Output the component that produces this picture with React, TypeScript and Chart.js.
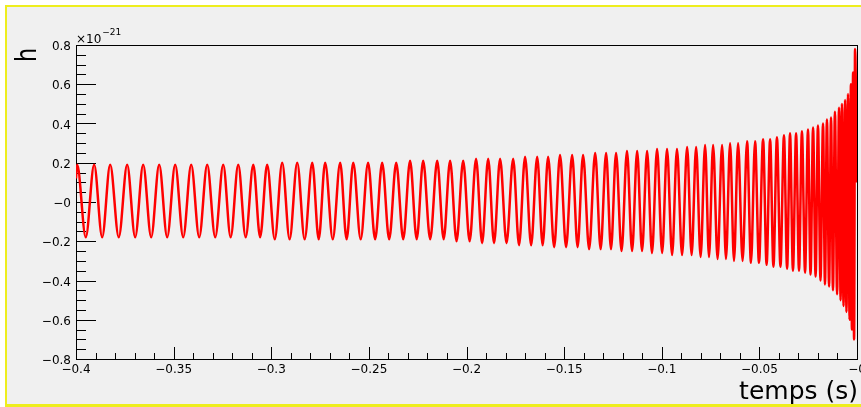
import React, { useEffect, useRef } from "react";
import { Chart, registerables } from "chart.js";

Chart.register(...registerables);

// Chirp waveform: times (s) and strain (x1e-21) of each crest and trough
const startPoint = { t: -0.4, h: 0.12 };
const endPoint = { t: 0.0, h: 0.1 };

const peakTimes = [
  -0.3994, -0.3907, -0.3825, -0.3738, -0.3656, -0.3574, -0.3492, -0.341, -0.3328, -0.3246,
  -0.3169, -0.3092, -0.3021, -0.2944, -0.2867, -0.279, -0.2724, -0.2647, -0.258, -0.2504,
  -0.2432, -0.236, -0.2289, -0.2222, -0.215, -0.2084, -0.2017, -0.1951, -0.1889, -0.1828,
  -0.1761, -0.17, -0.1638, -0.1582, -0.1521, -0.1459, -0.1403, -0.1341, -0.1285, -0.1234,
  -0.1178, -0.1126, -0.1075, -0.1024, -0.0973, -0.0922, -0.087, -0.0824, -0.0778, -0.0737,
  -0.0691, -0.065, -0.0609, -0.0563, -0.0522, -0.0481, -0.0445, -0.041, -0.0374, -0.0343,
  -0.0312, -0.0282, -0.0251, -0.0225, -0.02, -0.0174, -0.0154, -0.0133, -0.0113, -0.0092,
  -0.0077, -0.0061, -0.0046, -0.0031, -0.002, -0.001,
];
const peakValues = [
  0.19, 0.19, 0.19, 0.19, 0.19, 0.19, 0.19, 0.19, 0.19, 0.19,
  0.19, 0.19, 0.19, 0.2, 0.2, 0.2, 0.2, 0.2, 0.2, 0.2,
  0.2, 0.2, 0.21, 0.21, 0.21, 0.21, 0.21, 0.22, 0.22, 0.22,
  0.22, 0.23, 0.23, 0.23, 0.24, 0.24, 0.24, 0.25, 0.25, 0.25,
  0.26, 0.26, 0.26, 0.27, 0.27, 0.27, 0.28, 0.28, 0.29, 0.29,
  0.29, 0.3, 0.3, 0.31, 0.31, 0.32, 0.32, 0.33, 0.34, 0.35,
  0.35, 0.36, 0.37, 0.38, 0.39, 0.4, 0.42, 0.43, 0.46, 0.48,
  0.5, 0.52, 0.55, 0.6, 0.66, 0.78,
];
const troughTimes = [
  -0.395, -0.3866, -0.3781, -0.3697, -0.3615, -0.3533, -0.3451, -0.3369, -0.3287, -0.3208,
  -0.3131, -0.3057, -0.2982, -0.2906, -0.2829, -0.2757, -0.2685, -0.2614, -0.2542, -0.2468,
  -0.2396, -0.2324, -0.2255, -0.2186, -0.2117, -0.2051, -0.1984, -0.192, -0.1859, -0.1795,
  -0.1731, -0.1669, -0.161, -0.1551, -0.149, -0.1431, -0.1372, -0.1313, -0.126, -0.1206,
  -0.1152, -0.1101, -0.105, -0.0998, -0.0947, -0.0896, -0.0847, -0.0801, -0.0758, -0.0714,
  -0.0671, -0.063, -0.0586, -0.0543, -0.0502, -0.0463, -0.0428, -0.0392, -0.0358, -0.0328,
  -0.0297, -0.0266, -0.0238, -0.0212, -0.0187, -0.0164, -0.0143, -0.0123, -0.0102, -0.0084,
  -0.0069, -0.0054, -0.0038, -0.0026, -0.0015,
];
const troughValues = [
  -0.18, -0.18, -0.18, -0.18, -0.18, -0.18, -0.18, -0.18, -0.18, -0.18,
  -0.18, -0.18, -0.19, -0.19, -0.19, -0.19, -0.19, -0.19, -0.19, -0.19,
  -0.19, -0.19, -0.19, -0.19, -0.19, -0.2, -0.2, -0.21, -0.21, -0.21,
  -0.22, -0.22, -0.22, -0.23, -0.23, -0.23, -0.24, -0.24, -0.24, -0.25,
  -0.25, -0.25, -0.26, -0.26, -0.27, -0.27, -0.27, -0.28, -0.28, -0.29,
  -0.29, -0.3, -0.3, -0.31, -0.31, -0.32, -0.33, -0.33, -0.34, -0.35,
  -0.35, -0.36, -0.37, -0.38, -0.4, -0.42, -0.43, -0.45, -0.47, -0.5,
  -0.53, -0.56, -0.6, -0.65, -0.7,
];

const xTickLabels = ["\u22120.4", "\u22120.35", "\u22120.3", "\u22120.25", "\u22120.2", "\u22120.15", "\u22120.1", "\u22120.05", "\u22120"];
const yTickLabels = ["\u22120.8", "\u22120.6", "\u22120.4", "\u22120.2", "\u22120", "0.2", "0.4", "0.6", "0.8"];

const X_MIN = -0.4, X_MAX = 0, Y_MIN = -0.8, Y_MAX = 0.8;
const FONT = '"DejaVu Sans", sans-serif';

function buildPoints() {
  const pts: { x: number; y: number }[] = [{ x: startPoint.t, y: startPoint.h }];
  for (let i = 0; i < peakTimes.length; i++) {
    pts.push({ x: peakTimes[i], y: peakValues[i] });
    if (i < troughTimes.length) pts.push({ x: troughTimes[i], y: troughValues[i] });
  }
  pts.push({ x: endPoint.t, y: endPoint.h });
  return pts;
}

const rootStyle = {
  id: "rootStyle",
  beforeDraw(chart: any) {
    const ctx = chart.ctx;
    const W = chart.width, H = chart.height;
    ctx.save();
    ctx.fillStyle = "#ffffff";
    ctx.fillRect(0, 0, W, H);
    ctx.fillStyle = "#f0f0f0";
    ctx.fillRect(7, 7, W - 7, H - 10);
    ctx.fillStyle = "#eeee1e";
    ctx.fillRect(5, 5, W - 5, 2);
    ctx.fillRect(5, 5, 2, H - 5);
    ctx.fillRect(5, H - 3, W - 5, 3);
    ctx.restore();
  },
  beforeDatasetsDraw(chart: any) {
    const ctx = chart.ctx;
    const { left, right, top, bottom } = chart.chartArea;
    const xs = chart.scales.x, ys = chart.scales.y;
    ctx.save();
    ctx.strokeStyle = "#000";
    ctx.lineWidth = 1;
    ctx.strokeRect(Math.round(left) + 0.5, Math.round(top) + 0.5, Math.round(right - left), Math.round(bottom - top));
    ctx.beginPath();
    for (let k = 0; k <= 32; k++) {
      const v = Y_MIN + k * 0.05;
      const py = Math.round(ys.getPixelForValue(v)) + 0.5;
      const len = k % 4 === 0 ? 20 : 10;
      ctx.moveTo(left, py);
      ctx.lineTo(left + len, py);
    }
    for (let k = 0; k <= 40; k++) {
      const v = X_MIN + k * 0.01;
      const px = Math.round(xs.getPixelForValue(v)) + 0.5;
      const len = k % 5 === 0 ? 12 : 6;
      ctx.moveTo(px, bottom);
      ctx.lineTo(px, bottom - len);
    }
    ctx.stroke();
    ctx.restore();
  },
  afterDraw(chart: any) {
    const ctx = chart.ctx;
    const { left, right } = chart.chartArea;
    ctx.save();
    ctx.fillStyle = "#000";
    // y axis title
    ctx.save();
    ctx.translate(36, 55);
    ctx.rotate(-Math.PI / 2);
    ctx.scale(0.8, 1);
    ctx.font = `28px ${FONT}`;
    ctx.textAlign = "center";
    ctx.textBaseline = "alphabetic";
    ctx.fillText("h", 0, 0);
    ctx.restore();
    // x axis title
    ctx.font = `25px ${FONT}`;
    ctx.textAlign = "right";
    ctx.textBaseline = "alphabetic";
    ctx.fillText("temps (s)", right + 1, 399);
    // exponent
    ctx.textAlign = "left";
    ctx.font = `12px ${FONT}`;
    ctx.fillText("\u00d710", left, 43);
    const w = ctx.measureText("\u00d710").width;
    ctx.font = `9px ${FONT}`;
    ctx.fillText("\u221221", left + w + 1, 35);
    ctx.restore();
  },
};

export default function App() {
  const canvasRef = useRef<HTMLCanvasElement | null>(null);

  useEffect(() => {
    const canvas = canvasRef.current;
    if (!canvas) return;
    const chart = new Chart(canvas, {
      type: "line",
      data: {
        datasets: [
          {
            data: buildPoints(),
            borderColor: "#ff0000",
            borderWidth: 2.5,
            pointRadius: 0,
            fill: false,
            cubicInterpolationMode: "monotone",
            borderJoinStyle: "round",
          },
        ],
      },
      options: {
        responsive: false,
        animation: false,
        devicePixelRatio: 1,
        parsing: false,
        normalized: true,
        layout: { padding: { top: 45, right: 4, bottom: 0, left: 0 } },
        plugins: { legend: { display: false }, tooltip: { enabled: false } },
        scales: {
          x: {
            type: "linear",
            min: X_MIN,
            max: X_MAX,
            grid: { display: false, drawTicks: false },
            border: { display: false },
            ticks: {
              stepSize: 0.05,
              padding: 4,
              color: "#000",
              maxRotation: 0,
              autoSkip: false,
              font: { family: FONT, size: 12 },
              callback: (_v: any, i: number) => xTickLabels[i],
            },
            afterFit: (s: any) => {
              s.height = 48;
              s.paddingLeft = 0;
              s.paddingRight = 0;
            },
          },
          y: {
            type: "linear",
            min: Y_MIN,
            max: Y_MAX,
            grid: { display: false, drawTicks: false },
            border: { display: false },
            ticks: {
              stepSize: 0.2,
              padding: 5,
              labelOffset: 2,
              color: "#000",
              autoSkip: false,
              font: { family: FONT, size: 12 },
              callback: (_v: any, i: number) => yTickLabels[i],
            },
            afterFit: (s: any) => {
              s.width = 76;
              s.paddingTop = 0;
              s.paddingBottom = 0;
            },
          },
        },
      },
      plugins: [rootStyle],
    } as any);
    return () => chart.destroy();
  }, []);

  return (
    <div style={{ position: "absolute", left: 0, top: 0, width: 861, height: 407 }}>
      <canvas ref={canvasRef} width={861} height={407} style={{ display: "block", width: 861, height: 407 }} />
    </div>
  );
}
